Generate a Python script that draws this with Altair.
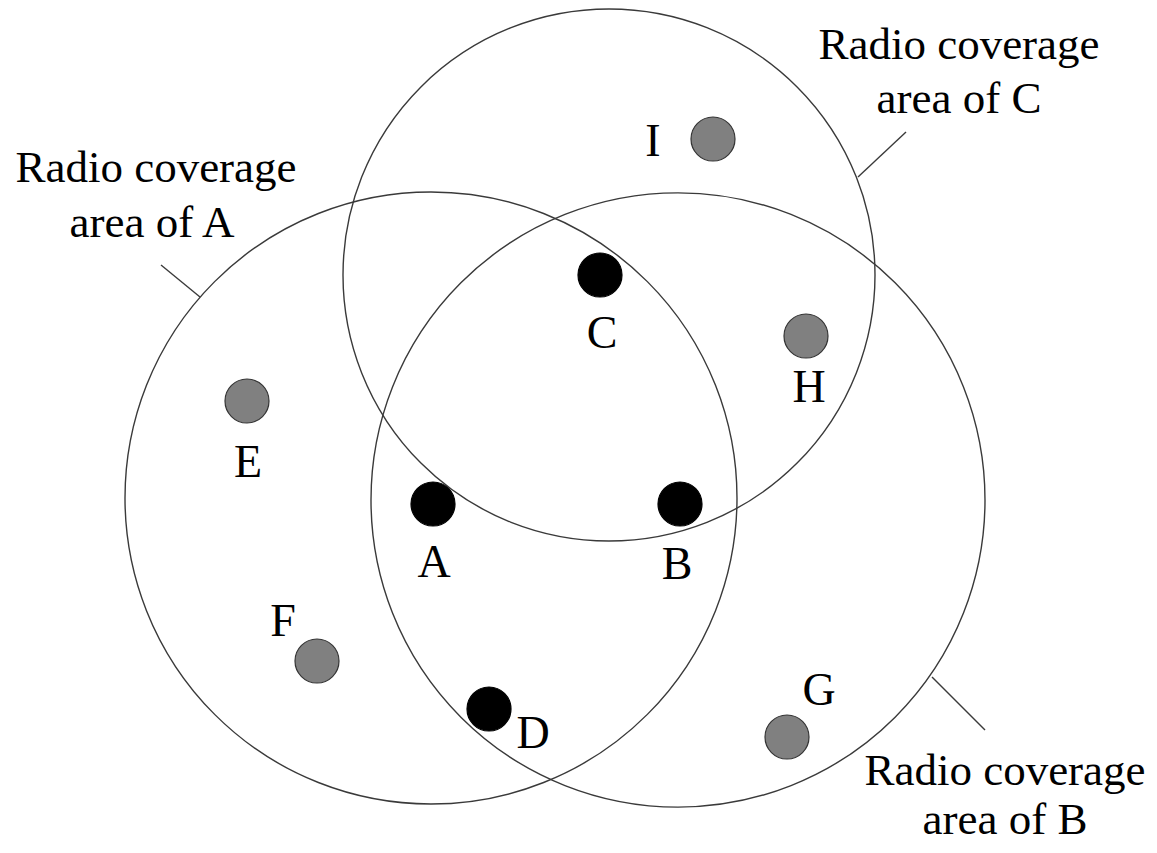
import altair as alt
import pandas as pd

# Coverage areas (pixel-space coordinates of the diagram)
area_names = ["A", "B", "C"]
area_cx = [431, 678, 609]
area_cy = [498, 500, 275]
area_r = [306, 307, 266]

# Nodes
node_names = ["A", "B", "C", "D", "E", "F", "G", "H", "I"]
node_x = [433, 680, 600, 489, 247, 317, 787, 806, 713]
node_y = [504, 504, 275, 709, 401, 661, 737, 336, 139]
node_kind = ["relay", "relay", "relay", "relay", "other", "other", "other", "other", "other"]

# Node label positions (center x, baseline y)
label_x = [434, 677, 602, 533, 248, 283, 819, 809, 653]
label_y = [577, 579, 348, 748, 477, 636, 705, 402, 156]

# Area captions
caption_text = ["Radio coverage", "area of A", "Radio coverage", "area of C", "Radio coverage", "area of B"]
caption_x = [156, 152, 959, 959, 1005, 1005]
caption_y = [182, 237, 59, 113, 785, 834]

# Leader lines
leader_x1 = [161, 906, 985]
leader_y1 = [265, 132, 730]
leader_x2 = [200, 858, 932]
leader_y2 = [297, 177, 677]

xs = alt.Scale(domain=[8, 1149])
ys = alt.Scale(domain=[8, 845], reverse=True)

areas = pd.DataFrame({"name": area_names, "x": area_cx, "y": area_cy, "r": area_r})
areas["s"] = (2 * areas["r"]) ** 2

nodes = pd.DataFrame({"name": node_names, "x": node_x, "y": node_y, "kind": node_kind,
                      "lx": label_x, "ly": label_y})
nodes["fill"] = nodes["kind"].map({"relay": "#000000", "other": "#808080"})
nodes["stroke"] = nodes["kind"].map({"relay": "#000000", "other": "#333333"})

captions = pd.DataFrame({"t": caption_text, "x": caption_x, "y": caption_y})
leaders = pd.DataFrame({"x": leader_x1, "y": leader_y1, "x2": leader_x2, "y2": leader_y2})

circles = alt.Chart(areas).mark_point(shape="circle", filled=False, opacity=1,
                                      strokeWidth=1.4, color="#3a3a3a").encode(
    x=alt.X("x:Q", scale=xs, axis=None),
    y=alt.Y("y:Q", scale=ys, axis=None),
    size=alt.Size("s:Q", scale=None, legend=None),
)

lines = alt.Chart(leaders).mark_rule(strokeWidth=1.4, color="#3a3a3a").encode(
    x=alt.X("x:Q", scale=xs, axis=None),
    y=alt.Y("y:Q", scale=ys, axis=None),
    x2="x2:Q",
    y2="y2:Q",
)

dots = alt.Chart(nodes).mark_point(shape="circle", filled=True, opacity=1, size=1936,
                                   strokeWidth=1.2).encode(
    x=alt.X("x:Q", scale=xs, axis=None),
    y=alt.Y("y:Q", scale=ys, axis=None),
    fill=alt.Fill("fill:N", scale=None),
    stroke=alt.Stroke("stroke:N", scale=None),
)

node_labels = alt.Chart(nodes).mark_text(font="Liberation Serif", fontSize=46,
                                         align="center", baseline="alphabetic",
                                         color="#000000").encode(
    x=alt.X("lx:Q", scale=xs, axis=None),
    y=alt.Y("ly:Q", scale=ys, axis=None),
    text="name:N",
)

caption_marks = alt.Chart(captions).mark_text(font="Liberation Serif", fontSize=45,
                                              align="center", baseline="alphabetic",
                                              color="#000000").encode(
    x=alt.X("x:Q", scale=xs, axis=None),
    y=alt.Y("y:Q", scale=ys, axis=None),
    text="t:N",
)

chart = alt.layer(circles, lines, dots, node_labels, caption_marks).properties(
    width=1141, height=837, padding=0, autosize=alt.AutoSizeParams(type="none"),
    background="white",
).configure_view(stroke=None)

chart.save("out.html", embed_options={"renderer": "svg", "actions": False})
